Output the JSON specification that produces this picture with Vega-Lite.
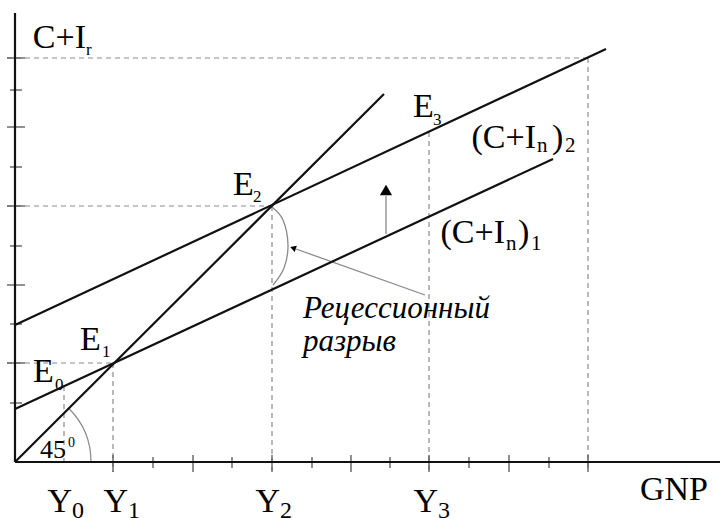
{
  "$schema": "https://vega.github.io/schema/vega-lite/v6.json",
  "width": 720,
  "height": 518,
  "autosize": {"type": "none"},
  "padding": 0,
  "background": "white",
  "config": {"view": {"stroke": null}, "text": {"font": "Liberation Serif"}},
  "datasets": {
    "solid": [
      {"name": "yaxis", "x": 0, "y": 0, "x2": 0, "y2": 449},
      {"name": "xaxis", "x": 0, "y": 0, "x2": 705, "y2": 0},
      {"name": "45deg", "x": 0, "y": 0, "x2": 369, "y2": 368},
      {"name": "CI1", "x": 0, "y": 53, "x2": 538, "y2": 303},
      {"name": "CI2", "x": 0, "y": 137, "x2": 591, "y2": 413}
    ],
    "dashed": [
      {"x": -8, "y": 404, "x2": 573, "y2": 404},
      {"x": 573, "y": 404, "x2": 573, "y2": -8},
      {"x": -8, "y": 256, "x2": 257, "y2": 256},
      {"x": 257, "y": 256, "x2": 257, "y2": -8},
      {"x": 414, "y": 330, "x2": 414, "y2": -8},
      {"x": -8, "y": 99, "x2": 98, "y2": 99},
      {"x": 98, "y": 99, "x2": 98, "y2": -10},
      {"x": 49, "y": 76, "x2": 49, "y2": 0}
    ],
    "ticks": [
      {"x": -8, "y": 404, "x2": 10, "y2": 404},
      {"x": -8, "y": 335, "x2": 10, "y2": 335},
      {"x": -8, "y": 256, "x2": 10, "y2": 256},
      {"x": -8, "y": 177, "x2": 10, "y2": 177},
      {"x": -8, "y": 99, "x2": 10, "y2": 99},
      {"x": -5, "y": 372, "x2": 7, "y2": 372},
      {"x": -5, "y": 295, "x2": 7, "y2": 295},
      {"x": -5, "y": 216, "x2": 7, "y2": 216},
      {"x": -5, "y": 138, "x2": 7, "y2": 138},
      {"x": -5, "y": 59, "x2": 7, "y2": 59},
      {"x": 98, "y": 7, "x2": 98, "y2": -10},
      {"x": 178, "y": 7, "x2": 178, "y2": -10},
      {"x": 257, "y": 7, "x2": 257, "y2": -10},
      {"x": 336, "y": 7, "x2": 336, "y2": -10},
      {"x": 414, "y": 7, "x2": 414, "y2": -10},
      {"x": 494, "y": 7, "x2": 494, "y2": -10},
      {"x": 573, "y": 7, "x2": 573, "y2": -10},
      {"x": 138, "y": 5, "x2": 138, "y2": -6},
      {"x": 217, "y": 5, "x2": 217, "y2": -6},
      {"x": 297, "y": 5, "x2": 297, "y2": -6},
      {"x": 375, "y": 5, "x2": 375, "y2": -6},
      {"x": 454, "y": 5, "x2": 454, "y2": -6},
      {"x": 534, "y": 5, "x2": 534, "y2": -6}
    ],
    "grayLines": [
      {"name": "shift", "x": 371, "y": 228, "x2": 371, "y2": 266},
      {"name": "pointer", "x": 410, "y": 167, "x2": 281, "y2": 213}
    ],
    "heads": [
      {"name": "shift", "x": 371, "y": 272, "angle": 0},
      {"name": "pointer", "x": 278, "y": 214, "angle": 289}
    ],
    "bracket": [
      {"i": 0, "x": 257, "y": 255},
      {"i": 1, "x": 268, "y": 242},
      {"i": 2, "x": 273, "y": 217},
      {"i": 3, "x": 269, "y": 194},
      {"i": 4, "x": 258, "y": 177}
    ],
    "angleArc": [
      {"x": 0, "y": 0}
    ],
    "labelsRight": [
      {"text": "C+I", "x": 71, "y": 414},
      {"text": "(C+I", "x": 521, "y": 314},
      {"text": "(C+I", "x": 490, "y": 219},
      {"text": "Y", "x": 57, "y": -50},
      {"text": "Y", "x": 113, "y": -50},
      {"text": "Y", "x": 265, "y": -50},
      {"text": "Y", "x": 423, "y": -50}
    ],
    "labels": [
      {"text": "r", "x": 71, "y": 407, "role": "sub"},
      {"text": "E", "x": 18, "y": 80, "role": "big"},
      {"text": "0", "x": 40, "y": 72, "role": "sub"},
      {"text": "E", "x": 65, "y": 112, "role": "big"},
      {"text": "1", "x": 87, "y": 105, "role": "sub"},
      {"text": "E", "x": 218, "y": 267, "role": "big"},
      {"text": "2", "x": 238, "y": 260, "role": "sub"},
      {"text": "E", "x": 398, "y": 345, "role": "big"},
      {"text": "3", "x": 418, "y": 337, "role": "sub"},
      {"text": "n", "x": 522, "y": 310, "role": "sub2"},
      {"text": ")", "x": 537, "y": 314, "role": "big"},
      {"text": "2", "x": 550, "y": 310, "role": "sub2"},
      {"text": "n", "x": 491, "y": 212, "role": "sub2"},
      {"text": ")", "x": 503, "y": 219, "role": "big"},
      {"text": "1", "x": 516, "y": 212, "role": "sub2"},
      {"text": "0", "x": 57, "y": -56, "role": "ysub"},
      {"text": "1", "x": 113, "y": -56, "role": "ysub"},
      {"text": "2", "x": 265, "y": -56, "role": "ysub"},
      {"text": "3", "x": 423, "y": -56, "role": "ysub"},
      {"text": "GNP", "x": 625, "y": -38, "role": "big"},
      {"text": "45", "x": 25, "y": 4, "role": "mid"},
      {"text": "0", "x": 53, "y": 15, "role": "sup"}
    ],
    "note": [
      {"text": "Рецессионный", "x": 288, "y": 144},
      {"text": "разрыв", "x": 288, "y": 111}
    ]
  },
  "layer": [
    {
      "data": {"name": "dashed"},
      "mark": {"type": "rule", "color": "#8a8a8a", "strokeWidth": 1.2, "strokeDash": [5, 4]},
      "encoding": {
        "x": {"field": "x", "type": "quantitative", "scale": {"domain": [-15, 705], "nice": false, "zero": false}, "axis": null},
        "y": {"field": "y", "type": "quantitative", "scale": {"domain": [-56, 462], "nice": false, "zero": false}, "axis": null},
        "x2": {"field": "x2"},
        "y2": {"field": "y2"}
      }
    },
    {
      "data": {"name": "ticks"},
      "mark": {"type": "rule", "color": "#555555", "strokeWidth": 1.3},
      "encoding": {
        "x": {"field": "x", "type": "quantitative"},
        "y": {"field": "y", "type": "quantitative"},
        "x2": {"field": "x2"},
        "y2": {"field": "y2"}
      }
    },
    {
      "data": {"name": "grayLines"},
      "mark": {"type": "rule", "color": "#8a8a8a", "strokeWidth": 1.3},
      "encoding": {
        "x": {"field": "x", "type": "quantitative"},
        "y": {"field": "y", "type": "quantitative"},
        "x2": {"field": "x2"},
        "y2": {"field": "y2"}
      }
    },
    {
      "data": {"name": "bracket"},
      "mark": {"type": "line", "color": "#8a8a8a", "strokeWidth": 1.3, "interpolate": "cardinal"},
      "encoding": {
        "x": {"field": "x", "type": "quantitative"},
        "y": {"field": "y", "type": "quantitative"},
        "order": {"field": "i", "type": "quantitative"}
      }
    },
    {
      "data": {"name": "angleArc"},
      "mark": {"type": "arc", "radius": 76, "radius2": 76, "theta": 0.7854, "theta2": 1.5708, "fill": null, "stroke": "#8a8a8a", "strokeWidth": 1.2},
      "encoding": {
        "x": {"field": "x", "type": "quantitative"},
        "y": {"field": "y", "type": "quantitative"}
      }
    },
    {
      "data": {"name": "solid"},
      "mark": {"type": "rule", "color": "#111111", "strokeWidth": 2.2},
      "encoding": {
        "x": {"field": "x", "type": "quantitative"},
        "y": {"field": "y", "type": "quantitative"},
        "x2": {"field": "x2"},
        "y2": {"field": "y2"}
      }
    },
    {
      "data": {"name": "heads"},
      "transform": [{"filter": "datum.name === 'shift'"}],
      "mark": {"type": "point", "shape": "triangle-up", "filled": true, "color": "#000000", "opacity": 1, "size": 150},
      "encoding": {
        "x": {"field": "x", "type": "quantitative"},
        "y": {"field": "y", "type": "quantitative"}
      }
    },
    {
      "data": {"name": "heads"},
      "transform": [{"filter": "datum.name === 'pointer'"}],
      "mark": {"type": "point", "shape": "triangle-up", "filled": true, "color": "#000000", "opacity": 1, "size": 45},
      "encoding": {
        "x": {"field": "x", "type": "quantitative"},
        "y": {"field": "y", "type": "quantitative"},
        "angle": {"field": "angle", "type": "quantitative", "scale": null}
      }
    },
    {
      "data": {"name": "labelsRight"},
      "mark": {"type": "text", "fontSize": 34, "align": "right", "baseline": "alphabetic", "color": "#000000"},
      "encoding": {
        "x": {"field": "x", "type": "quantitative"},
        "y": {"field": "y", "type": "quantitative"},
        "text": {"field": "text"}
      }
    },
    {
      "data": {"name": "labels"},
      "transform": [{"filter": "datum.role === 'big'"}],
      "mark": {"type": "text", "fontSize": 34, "align": "left", "baseline": "alphabetic", "color": "#000000"},
      "encoding": {
        "x": {"field": "x", "type": "quantitative"},
        "y": {"field": "y", "type": "quantitative"},
        "text": {"field": "text"}
      }
    },
    {
      "data": {"name": "labels"},
      "transform": [{"filter": "datum.role === 'sub'"}],
      "mark": {"type": "text", "fontSize": 17, "align": "left", "baseline": "alphabetic", "color": "#000000"},
      "encoding": {
        "x": {"field": "x", "type": "quantitative"},
        "y": {"field": "y", "type": "quantitative"},
        "text": {"field": "text"}
      }
    },
    {
      "data": {"name": "labels"},
      "transform": [{"filter": "datum.role === 'sub2'"}],
      "mark": {"type": "text", "fontSize": 21, "align": "left", "baseline": "alphabetic", "color": "#000000"},
      "encoding": {
        "x": {"field": "x", "type": "quantitative"},
        "y": {"field": "y", "type": "quantitative"},
        "text": {"field": "text"}
      }
    },
    {
      "data": {"name": "labels"},
      "transform": [{"filter": "datum.role === 'ysub'"}],
      "mark": {"type": "text", "fontSize": 24, "align": "left", "baseline": "alphabetic", "color": "#000000"},
      "encoding": {
        "x": {"field": "x", "type": "quantitative"},
        "y": {"field": "y", "type": "quantitative"},
        "text": {"field": "text"}
      }
    },
    {
      "data": {"name": "labels"},
      "transform": [{"filter": "datum.role === 'mid'"}],
      "mark": {"type": "text", "fontSize": 26, "align": "left", "baseline": "alphabetic", "color": "#000000"},
      "encoding": {
        "x": {"field": "x", "type": "quantitative"},
        "y": {"field": "y", "type": "quantitative"},
        "text": {"field": "text"}
      }
    },
    {
      "data": {"name": "labels"},
      "transform": [{"filter": "datum.role === 'sup'"}],
      "mark": {"type": "text", "fontSize": 14, "align": "left", "baseline": "alphabetic", "color": "#000000"},
      "encoding": {
        "x": {"field": "x", "type": "quantitative"},
        "y": {"field": "y", "type": "quantitative"},
        "text": {"field": "text"}
      }
    },
    {
      "data": {"name": "note"},
      "mark": {"type": "text", "fontStyle": "italic", "fontSize": 31, "align": "left", "baseline": "alphabetic", "color": "#000000"},
      "encoding": {
        "x": {"field": "x", "type": "quantitative"},
        "y": {"field": "y", "type": "quantitative"},
        "text": {"field": "text"}
      }
    }
  ]
}
